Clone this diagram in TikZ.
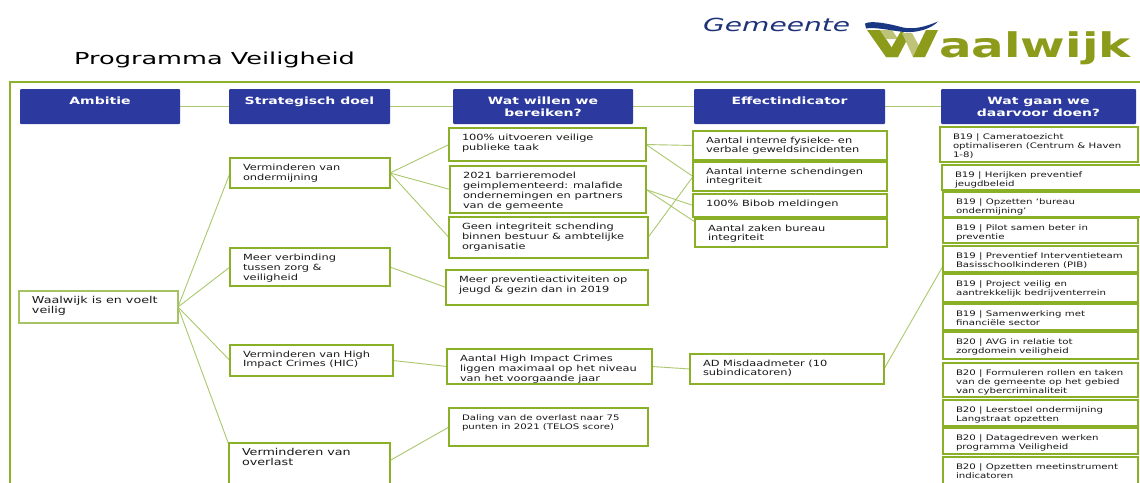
\documentclass[tikz,border=0pt]{standalone}
\usepackage{fontspec}
\setmainfont{DejaVu Sans}
\newfontfamily\bodyf[FakeStretch=1.34]{DejaVu Sans}
\newfontfamily\hdrf[FakeStretch=1.4]{DejaVu Sans}
\newfontfamily\titlef[FakeStretch=1.55]{DejaVu Sans}
\usetikzlibrary{backgrounds}
\definecolor{hdrblue}{RGB}{44,58,160}
\definecolor{boxgreen}{RGB}{138,176,40}
\definecolor{framegreen}{RGB}{140,178,45}
\definecolor{linegreen}{RGB}{170,200,110}
\definecolor{lightbox}{RGB}{165,195,100}
\definecolor{txt}{RGB}{25,25,25}
\definecolor{gemblue}{RGB}{30,50,120}
\definecolor{waveblue}{RGB}{25,55,130}
\definecolor{waal}{RGB}{140,155,25}
\definecolor{lolive}{RGB}{190,195,120}
\tikzset{
  bx/.style={draw=boxgreen, line width=2.5pt, fill=white, anchor=north west,
    inner sep=0pt, outer sep=0pt, text=txt, font=\bodyf\fontsize{8.5}{10}\selectfont},
  bxb/.style={bx, font=\bodyf\fontsize{8.5}{9.5}\selectfont},
  bxs/.style={bx, font=\bodyf\fontsize{7.6}{9}\selectfont},
  bxl/.style={bx, font=\bodyf\fontsize{9.5}{10.7}\selectfont},
  bxw/.style={bxl, draw=lightbox, line width=2pt},
  hdr/.style={fill=hdrblue, draw=none, rounded corners=1pt, anchor=north west,
    inner sep=0pt, outer sep=0pt, text=white, font=\hdrf\bfseries\fontsize{10}{12.5}\selectfont},
  cn/.style={draw=linegreen, line width=0.9pt},
  frame/.style={draw=framegreen, line width=2.5pt}
}
\newcommand{\tbox}[7][bx]{%
  \node[#1] (#2) at (#3,#4) {\parbox[c][\dimexpr #6pt-#4pt\relax][t]{\dimexpr #5pt-#3pt\relax}{\raggedright\leftskip=13pt\relax\rule{0pt}{12pt}#7}};}
\newcommand{\hdrbox}[7][hdr]{%
  \node[#1] (#2) at (#3,#4) {\parbox[c][\dimexpr #6pt-#4pt\relax][t]{\dimexpr #5pt-#3pt\relax}{\centering\rule{0pt}{15pt}#7}};}
\begin{document}
\begin{tikzpicture}[x=1pt,y=-1pt]
\useasboundingbox (0,0) rectangle (1140,482);
\clip (0,0) rectangle (1140,482);
% title
\node[anchor=base west, inner sep=0pt, text=black, font=\titlef\fontsize{16.5}{18}\selectfont] (title) at (74,64) {Programma Veiligheid};
% logo
\node[anchor=base west, inner sep=0pt, text=gemblue, font=\fontsize{18}{20}\selectfont\itshape] (gem) at (703,31.7) {\scalebox{1.56}[1]{Gemeente}};
\node[anchor=base west, inner sep=0pt, text=waal, font=\bfseries\fontsize{34}{36}\selectfont] (waal) at (939,57) {\scalebox{1.42}[1]{aalwijk}};
\fill[waal] (867,30) -- (880,30) -- (898,57) -- (886,57) -- cycle;
\fill[lolive] (880,30) -- (892,30) -- (898,39) -- (886,39) -- cycle;
\fill[waal] (886,57) -- (898,57) -- (909,36) -- (901,31) -- cycle;
\fill[lolive] (902,33) -- (912,33) -- (925,57) -- (913,57) -- cycle;
\fill[waal] (913,57) -- (925,57) -- (938,30) -- (926,30) -- cycle;
\fill[waveblue] (865,23.5) .. controls (872,20) and (890,24) .. (903,27.5)
   .. controls (915,30) and (927,26) .. (938,21.5)
   .. controls (932,28) and (918,34) .. (900,31.5)
   .. controls (888,30) and (875,27) .. (866,28.5) -- cycle;
% frame
\draw[frame] (10,500) -- (10,82) -- (1150,82);
% headers
\hdrbox{hA}{20}{89}{180}{124}{Ambitie}
\hdrbox{hS}{229}{89}{390}{124}{Strategisch doel}
\hdrbox{hW}{453}{89}{633}{124}{Wat willen we\\bereiken?}
\hdrbox{hE}{694}{89}{885}{124}{Effectindicator}
\hdrbox{hD}{941}{89}{1136}{124}{Wat gaan we\\daarvoor doen?}
% level 1
\tbox[bxw]{ww}{19}{291}{178}{323}{Waalwijk is en voelt\\veilig}
% level 2
\tbox{ond}{230}{158}{390}{188}{Verminderen van\\ondermijning}
\tbox{verb}{230}{248}{390}{286}{Meer verbinding\\tussen zorg \&\\veiligheid}
\tbox[bxb]{hic}{230}{345}{393}{376}{Verminderen van High\\Impact Crimes (HIC)}
\tbox[bxl]{ovl}{229}{443}{390}{500}{Verminderen van\\overlast}
% level 3
\tbox{t100}{449}{128}{646}{161}{100\% uitvoeren veilige\\publieke taak}
\tbox{barr}{450}{166}{646}{213}{2021 barrieremodel\\geimplementeerd: malafide\\ondernemingen en partners\\van de gemeente}
\tbox{geen}{449}{217}{648}{258}{Geen integriteit schending\\binnen bestuur \& ambtelijke\\organisatie}
\tbox{prev}{446}{270}{648}{305}{Meer preventieactiviteiten op\\jeugd \& gezin dan in 2019}
\tbox{ahic}{447}{349}{652}{384}{Aantal High Impact Crimes\\liggen maximaal op het niveau\\van het voorgaande jaar}
\tbox[bxs]{dal}{449}{408}{648}{446}{Daling van de overlast naar 75\\punten in 2021 (TELOS score)}
% level 4
\tbox[bxb]{fys}{693}{131}{887}{160}{Aantal interne fysieke- en\\verbale geweldsincidenten}
\tbox[bxb]{sch}{693}{162}{887}{191}{Aantal interne schendingen\\integriteit}
\tbox[bxb]{bib}{693}{194}{887}{217}{100\% Bibob meldingen}
\tbox[bxb]{zak}{695}{219}{887}{247}{Aantal zaken bureau\\integriteit}
\tbox[bxb]{ad}{690}{354}{884}{384}{AD Misdaadmeter (10\\subindicatoren)}
% level 5
\tbox[bxs]{c1}{940}{127}{1138}{162}{B19 \textbar{} Cameratoezicht\\optimaliseren (Centrum \& Haven\\1-8)}
\tbox[bxs]{c2}{942}{165}{1141}{190}{B19 \textbar{} Herijken preventief\\jeugdbeleid}
\tbox[bxs]{c3}{943}{192}{1141}{217}{B19 \textbar{} Opzetten ‘bureau\\ondermijning’}
\tbox[bxs]{c4}{943}{218}{1138}{243}{B19 \textbar{} Pilot samen beter in\\preventie}
\tbox[bxs]{pib}{943}{246}{1138}{272}{B19 \textbar{} Preventief Interventieteam\\Basisschoolkinderen (PIB)}
\tbox[bxs]{c6}{943}{274}{1138}{302}{B19 \textbar{} Project veilig en\\aantrekkelijk bedrijventerrein}
\tbox[bxs]{c7}{943}{304}{1138}{330}{B19 \textbar{} Samenwerking met\\financiële sector}
\tbox[bxs]{c8}{943}{332}{1138}{359}{B20 \textbar{} AVG in relatie tot\\zorgdomein veiligheid}
\tbox[bxs]{c9}{943}{363}{1138}{397}{B20 \textbar{} Formuleren rollen en taken\\van de gemeente op het gebied\\van cybercriminaliteit}
\tbox[bxs]{c10}{943}{400}{1138}{426}{B20 \textbar{} Leerstoel ondermijning\\Langstraat opzetten}
\tbox[bxs]{c11}{943}{428}{1138}{454}{B20 \textbar{} Datagedreven werken\\programma Veiligheid}
\tbox[bxs]{c12}{943}{457}{1138}{484}{B20 \textbar{} Opzetten meetinstrument\\indicatoren}
% background and connectors
\begin{pgfonlayer}{background}
\fill[white] (0,0) rectangle (1140,482);
\draw[cn] (hA.east) -- (hS.west);
\draw[cn] (hS.east) -- (hW.west);
\draw[cn] (hW.east) -- (hE.west);
\draw[cn] (hE.east) -- (hD.west);
\draw[cn] (ww.east) -- (ond.west);
\draw[cn] (ww.east) -- (verb.west);
\draw[cn] (ww.east) -- (hic.west);
\draw[cn] (ww.east) -- ([yshift=-2pt]ovl.north west);
\draw[cn] (ond.east) -- (t100.west);
\draw[cn] (ond.east) -- (barr.west);
\draw[cn] (ond.east) -- (geen.west);
\draw[cn] (verb.east) -- (prev.west);
\draw[cn] (hic.east) -- (ahic.west);
\draw[cn] ([yshift=11pt]ovl.east) -- (dal.west);
\draw[cn] (t100.east) -- (fys.west);
\draw[cn] (t100.east) -- (sch.west);
\draw[cn] (barr.east) -- (bib.west);
\draw[cn] (barr.east) -- ([yshift=-3pt]zak.north west);
\draw[cn] (geen.east) -- (sch.west);
\draw[cn] (ahic.east) -- (ad.west);
\draw[cn] (ad.east) -- ([yshift=6pt]pib.south west);
\end{pgfonlayer}
\end{tikzpicture}
\end{document}
